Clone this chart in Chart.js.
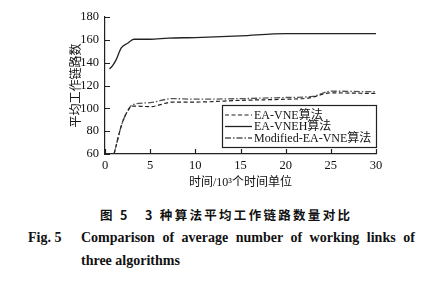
<!DOCTYPE html>
<html>
<head>
<meta charset="utf-8">
<script src="https://cdn.jsdelivr.net/npm/chart.js@4/dist/chart.umd.min.js"></script>
<style>
  html, body { margin: 0; padding: 0; background: #fff; }
  #wrap { position: relative; width: 427px; height: 284px; overflow: hidden; }
  #box { position: absolute; left: 0; top: 0; width: 427px; height: 200px; }
  .cap { position: absolute; white-space: nowrap; color: #111; }
  #cn { left: 100px; top: 205px; font: bold 12.5px "Noto Sans CJK SC", sans-serif; letter-spacing: 2.3px; }
  #fig { left: 28px; top: 230px; font: bold 14px "Liberation Serif", serif; }
  #en1 { left: 81px; top: 230px; font: bold 14px "Liberation Serif", serif; word-spacing: 4px; }
  #en2 { left: 81px; top: 253px; font: bold 14px "Liberation Serif", serif; }
</style>
</head>
<body>
<div id="wrap">
  <div id="box"><canvas id="myChart"></canvas></div>
  <div class="cap" id="cn">图 5&nbsp;&nbsp;&nbsp;3 种算法平均工作链路数量对比</div>
  <div class="cap" id="fig">Fig. 5</div>
  <div class="cap" id="en1">Comparison of average number of working links of</div>
  <div class="cap" id="en2">three algorithms</div>
</div>
<script>
var seriesNames = ["EA-VNE算法", "EA-VNEH算法", "Modified-EA-VNE算法"];

// time in 10^3 units
var vneX  = [1, 1.9, 2.8, 3, 5, 7.5, 10, 15, 20, 22.5, 25, 30];
var vneY  = [60, 87, 101, 102, 101.5, 105.5, 105.5, 107, 108, 109, 113.5, 113];
var vnehX = [0.5, 0.8, 1.2, 1.8, 2.5, 3.2, 5, 7, 10, 15, 20, 25, 30];
var vnehY = [134.5, 137, 142, 153, 157, 160.5, 160.5, 161.5, 162, 163.5, 165.5, 165.5, 165.5];
var modX  = [1, 1.9, 2.8, 3, 5, 7.5, 10, 15, 20, 23, 25, 30];
var modY  = [60, 87, 101.5, 103, 105, 108.5, 108, 108.5, 109.5, 110.5, 115, 114.5];

var xTicks = [0, 5, 10, 15, 20, 25, 30];
var yTicks = [60, 80, 100, 120, 140, 160, 180];

var serif = '"Liberation Serif", "Noto Sans CJK SC", serif';
var ink = "#222";

function pts(xs, ys) {
    var out = [];
    for (var i = 0; i < xs.length; i++) out.push({x: xs[i], y: ys[i]});
    return out;
}

// ticks point into the plot
var innerTicks = {
    id: "innerTicks",
    afterDraw: function(chart) {
        var c = chart.ctx, a = chart.chartArea;
        var sx = chart.scales.x, sy = chart.scales.y;
        c.save();
        c.strokeStyle = ink;
        c.lineWidth = 1.2;
        c.beginPath();
        xTicks.forEach(function(v) {
            var px = Math.round(sx.getPixelForValue(v)) + 0.5;
            c.moveTo(px, a.bottom);
            c.lineTo(px, a.bottom - 5);
        });
        yTicks.forEach(function(v) {
            var py = Math.round(sy.getPixelForValue(v)) + 0.5;
            c.moveTo(a.left, py);
            c.lineTo(a.left + 5, py);
        });
        c.stroke();
        c.restore();
    }
};

// boxed legend in the lower right corner
var boxLegend = {
    id: "boxLegend",
    afterDraw: function(chart) {
        var c = chart.ctx, a = chart.chartArea;
        var w = 154, h = 42;
        var x0 = a.right - w, y0 = a.bottom - 7 - h;
        c.save();
        c.fillStyle = "#fff";
        c.fillRect(x0, y0, w, h);
        c.strokeStyle = ink;
        c.lineWidth = 1.2;
        c.strokeRect(x0 + 0.5, y0 + 0.5, w, h);
        c.font = "12px " + serif;
        c.textBaseline = "middle";
        chart.data.datasets.forEach(function(ds, i) {
            var yy = y0 + 10 + i * 11.5;
            c.strokeStyle = ds.borderColor;
            c.lineWidth = ds.borderWidth;
            c.setLineDash(ds.borderDash || []);
            c.beginPath();
            c.moveTo(x0 + 3, yy);
            c.lineTo(x0 + 30, yy);
            c.stroke();
            c.setLineDash([]);
            c.fillStyle = "#111";
            c.fillText(ds.label, x0 + 32, yy + 0.5);
        });
        c.restore();
    }
};

var ctx = document.getElementById("myChart").getContext("2d");
new Chart(ctx, {
    type: "line",
    data: {
        datasets: [
            {label: seriesNames[0], data: pts(vneX, vneY), borderColor: ink, borderWidth: 1.2, borderDash: [4, 2.5]},
            {label: seriesNames[1], data: pts(vnehX, vnehY), borderColor: ink, borderWidth: 1.3},
            {label: seriesNames[2], data: pts(modX, modY), borderColor: "#555", borderWidth: 1.3, borderDash: [6, 2, 1.5, 2]}
        ]
    },
    options: {
        responsive: true,
        maintainAspectRatio: false,
        animation: false,
        events: [],
        layout: {padding: {left: 0, right: 51, top: 17, bottom: 0}},
        elements: {
            point: {radius: 0},
            line: {cubicInterpolationMode: "monotone", fill: false}
        },
        plugins: {legend: {display: false}, tooltip: {enabled: false}},
        scales: {
            x: {
                type: "linear",
                min: 0, max: 30,
                afterBuildTicks: function(s) { s.ticks = xTicks.map(function(v) { return {value: v}; }); },
                afterFit: function(s) { s.height = 46; },
                grid: {display: false, drawTicks: false},
                border: {display: true, color: ink, width: 1.2},
                ticks: {color: "#111", padding: 4, maxRotation: 0, font: {family: serif, size: 12.5}},
                title: {display: true, text: "时间/10³个时间单位", color: "#111", padding: {top: 0, bottom: 10}, font: {family: serif, size: 12}}
            },
            y: {
                min: 60, max: 180,
                afterBuildTicks: function(s) { s.ticks = yTicks.map(function(v) { return {value: v}; }); },
                afterFit: function(s) { s.width = 105; },
                grid: {display: false, drawTicks: false},
                border: {display: true, color: ink, width: 1.2},
                ticks: {color: "#111", padding: 6, font: {family: serif, size: 12.5}},
                title: {display: true, text: "平均工作链路数", color: "#111", padding: {top: 70, bottom: 0}, font: {family: serif, size: 12}}
            }
        }
    },
    plugins: [innerTicks, boxLegend]
});
</script>
</body>
</html>
